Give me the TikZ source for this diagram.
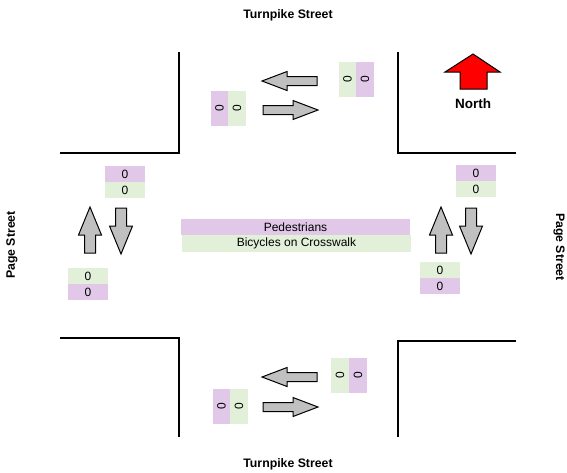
\documentclass[tikz,border=0pt]{standalone}
\usepackage{fontspec}
\setmainfont{Liberation Sans}
\usepackage{tikz}
\definecolor{pedcolor}{HTML}{E1C8E8}
\definecolor{bikecolor}{HTML}{E2EFD9}
\definecolor{arrowgray}{HTML}{C0C0C0}

\begin{document}
\begin{tikzpicture}[x=1pt,y=-1pt,
    street/.style={font=\bfseries\fontsize{12.3}{14}\selectfont},
    count/.style={inner sep=0pt,font=\fontsize{12}{13}\selectfont},
    ped/.style={count,fill=pedcolor},
    bike/.style={count,fill=bikecolor},
    hbox/.style={minimum width=40,minimum height=16},
    vbox/.style={rotate=90,minimum width=35,minimum height=17.5},
    flow/.style={draw=black,fill=arrowgray,line width=1pt,line join=miter}]
\useasboundingbox (0,0) rectangle (567,472);
%street corners
\draw[line width=2pt] (179,52)--(179,153)--(60,153);
\draw[line width=2pt] (398,52)--(398,153)--(516,153);
\draw[line width=2pt] (60,338)--(179,338)--(179,437);
\draw[line width=2pt] (516,341)--(398,341)--(398,437);
%street names
\node[street] (turnN) at (288,15) {Turnpike Street};
\node[street] (turnS) at (288,464) {Turnpike Street};
\node[street,rotate=90] (pageW) at (12,245) {Page Street};
\node[street,rotate=-90] (pageE) at (559,247) {Page Street};
%north arrow
\draw[draw=black,fill=red,line width=1pt] (473,54)--(500,72)--(487,72)--(487,89)
    --(460,89)--(460,72)--(445,72)--cycle;
\node[street,font=\bfseries\fontsize{13.5}{15}\selectfont] (north) at (473,104) {North};
%flow arrows, east/west
\foreach \x/\y/\a in {317/81/180,263/110/0,317/377/180,263/407/0}
    \draw[flow,shift={(\x,\y)},rotate=\a] (0,-4.5)--(30,-4.5)--(30,-9.5)--(55,0)
        --(30,9.5)--(30,4.5)--(0,4.5)--cycle;
%flow arrows, north/south
\foreach \x/\y/\a in {90/253/90,121/208/-90,441/253/90,471/208/-90}
    \draw[flow,shift={(\x,\y)},rotate=\a] (0,-5.5)--(18,-5.5)--(18,-11.5)--(46,0)
        --(18,11.5)--(18,5.5)--(0,5.5)--cycle;
%counts north
\node[ped,vbox] (pedNW) at (219.5,108) {0};
\node[bike,vbox] (bikeNW) at (237,108) {0};
\node[bike,vbox] (bikeNE) at (347.5,79) {0};
\node[ped,vbox] (pedNE) at (365,79) {0};
%counts south
\node[ped,vbox] (pedSW) at (221.5,406) {0};
\node[bike,vbox] (bikeSW) at (239,406) {0};
\node[bike,vbox] (bikeSE) at (340,375.5) {0};
\node[ped,vbox] (pedSE) at (358,375.5) {0};
%counts west
\node[ped,hbox] (pedWN) at (125,174) {0};
\node[bike,hbox] (bikeWN) at (125,190) {0};
\node[bike,hbox] (bikeWS) at (88,276) {0};
\node[ped,hbox] (pedWS) at (88,292) {0};
%counts east
\node[ped,hbox] (pedEN) at (476,173) {0};
\node[bike,hbox] (bikeEN) at (476,189) {0};
\node[bike,hbox] (bikeES) at (440,270) {0};
\node[ped,hbox] (pedES) at (440,286) {0};
%legend
\node[ped,minimum width=229,minimum height=16] (pedkey) at (295.5,227) {Pedestrians};
\node[bike,minimum width=229,minimum height=17] (bikekey) at (296.5,243.5) {Bicycles on Crosswalk};
\end{tikzpicture}
\end{document}
